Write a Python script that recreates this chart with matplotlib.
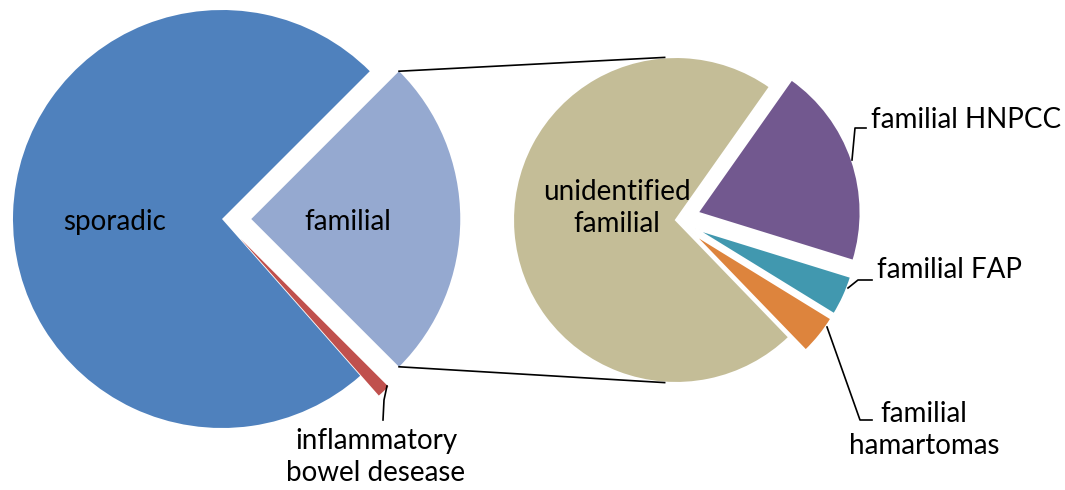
import numpy as np
import matplotlib
matplotlib.use("Agg")
import matplotlib.pyplot as plt

# main pie: share of all cases
main_labels = ["familial", "sporadic", "inflammatory\nbowel desease"]
main_values = [25, 74, 1]
main_colors = ["#95A9D0", "#4F81BD", "#C0504D"]

# second pie: breakdown of the familial part
sub_labels = ["familial\nhamartomas", "familial FAP", "familial HNPCC", "unidentified\nfamilial"]
sub_values = [1, 1, 5, 18]
sub_colors = ["#DD843D", "#4198AF", "#72588F", "#C4BD97"]

FONT = ["Lato", "DejaVu Sans"]
FS = 20
H = 490

fig = plt.figure(figsize=(10.65, 4.9), dpi=100)
ax = fig.add_axes([0, 0, 1, 1])

# left pie (explode is in data units here)
c1 = (222, H - 219)
r1 = 209
w1, _ = ax.pie(main_values, colors=main_colors, startangle=-45, counterclock=True,
               explode=[0.14 * r1, 0, 0.13 * r1], center=c1, radius=r1, frame=True,
               wedgeprops=dict(linewidth=0))

# right pie
c2 = (676, H - 220)
r2 = 163
w2, _ = ax.pie(sub_values, colors=sub_colors, startangle=-46, counterclock=True,
               explode=[0.13 * r2, 0.13 * r2, 0.14 * r2, 0], center=c2, radius=r2,
               frame=True, wedgeprops=dict(linewidth=1.5, edgecolor="white"))
ax.set_xlim(0, 1065)
ax.set_ylim(0, H)
ax.set_aspect("equal")
ax.axis("off")

# connector lines from the familial wedge to the second pie
fam = w1[0]
fx, fy = fam.center
for ang, ang2 in [(fam.theta2, 94), (fam.theta1, -94)]:
    x0 = fx + r1 * np.cos(np.radians(ang))
    y0 = fy + r1 * np.sin(np.radians(ang))
    x1 = c2[0] + r2 * np.cos(np.radians(ang2))
    y1 = c2[1] + r2 * np.sin(np.radians(ang2))
    ax.plot([x0, x1], [y0, y1], color="black", lw=1.2)

# labels inside slices
ax.text(115, H - 222, "sporadic", fontsize=FS, family=FONT, ha="center", va="center")
ax.text(348, H - 222, "familial", fontsize=FS, family=FONT, ha="center", va="center")
ax.text(617, H - 208, "unidentified\nfamilial", fontsize=FS, family=FONT,
        ha="center", va="center", linespacing=1.3)

# outside labels with leader lines
ax.plot([387, 384, 383], [H - 386, H - 400, H - 420], color="black", lw=1.2)
ax.text(376, H - 457, "inflammatory\nbowel desease", fontsize=FS, family=FONT,
        ha="center", va="center", linespacing=1.25)

ax.plot([852, 855, 866], [H - 160, H - 128, H - 128], color="black", lw=1.2)
ax.text(871, H - 120, "familial HNPCC", fontsize=FS, family=FONT, ha="left", va="center")

ax.plot([848, 858, 872], [H - 288, H - 280, H - 280], color="black", lw=1.2)
ax.text(877, H - 270, "familial FAP", fontsize=FS, family=FONT, ha="left", va="center")

ax.plot([827, 860, 872], [H - 327, H - 420, H - 420], color="black", lw=1.2)
ax.text(924, H - 430, "familial\nhamartomas", fontsize=FS, family=FONT,
        ha="center", va="center", linespacing=1.25)

fig.savefig("out.png", dpi=100)
